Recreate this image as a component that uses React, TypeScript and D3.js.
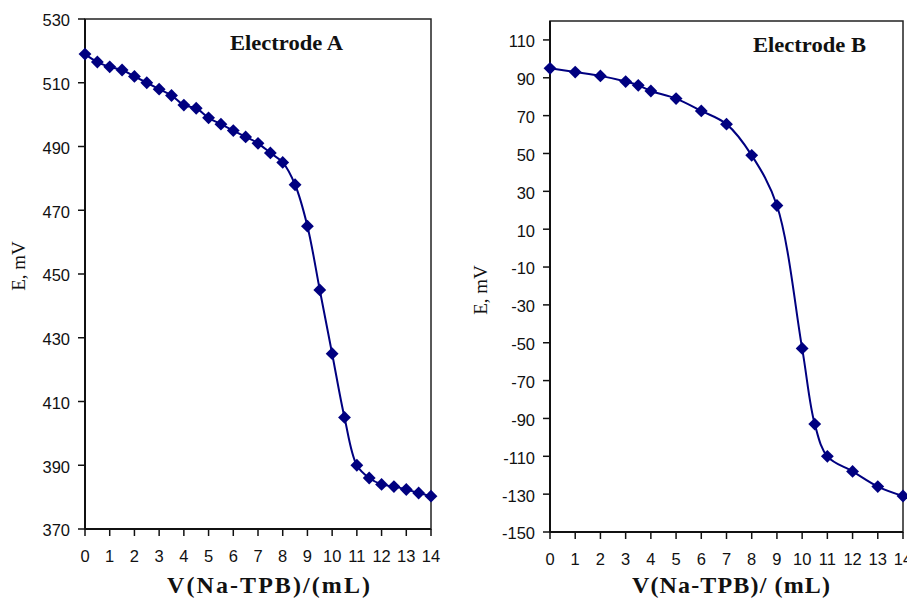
import React from "react";
import * as d3 from "d3";

const volumesA = [0, 0.5, 1, 1.5, 2, 2.5, 3, 3.5, 4, 4.5, 5, 5.5, 6, 6.5, 7, 7.5, 8, 8.5, 9, 9.5, 10, 10.5, 11, 11.5, 12, 12.5, 13, 13.5, 14];
const potentialsA = [519, 516.5, 515, 514, 512, 510, 508, 506, 503, 502, 499, 497, 495, 493, 491, 488, 485, 478, 465, 445, 425, 405, 390, 386, 384, 383.3, 382.4, 381.3, 380.3];

const volumesB = [0, 1, 2, 3, 3.5, 4, 5, 6, 7, 8, 9, 10, 10.5, 11, 12, 13, 14];
const potentialsB = [95, 93, 91, 88, 86, 83, 79, 72.5, 65.5, 49, 22.5, -53, -93, -110, -118, -126, -131];

const xTicks = d3.range(0, 15);
const yTicksA = d3.range(370, 531, 20);
const yTicksB = d3.range(-150, 111, 20);

const NAVY = "#000080";
const sym = d3.symbol().type(d3.symbolDiamond2).size(105);

type PanelProps = {
  xs: number[];
  ys: number[];
  xRange: [number, number];
  yDomain: [number, number];
  yRange: [number, number];
  yTicks: number[];
  title: string;
  titleX: number;
  titleY: number;
  xLabel: string;
  xLabelX: number;
  xLabelLen: number;
  yLabelX: number;
  yLabelY: number;
};

function Panel(p: PanelProps) {
  const x = d3.scaleLinear().domain([0, 14]).range(p.xRange);
  const y = d3.scaleLinear().domain(p.yDomain).range(p.yRange);
  const pts = p.xs.map((v, i) => [v, p.ys[i]] as [number, number]);
  const line = d3
    .line<[number, number]>()
    .x((d) => x(d[0]))
    .y((d) => y(d[1]))
    .curve(d3.curveCatmullRom.alpha(0.5));
  const [x0, x1] = p.xRange;
  const [yb, yt] = p.yRange;
  return (
    <g>
      <rect x={x0} y={yt} width={x1 - x0} height={yb - yt} fill="white" stroke="#222" strokeWidth={1.5} />
      {p.yTicks.map((t) => (
        <g key={"y" + t}>
          <line x1={x0 - 7} x2={x0} y1={y(t)} y2={y(t)} stroke="#111" strokeWidth={1.5} />
          <text x={x0 - 15} y={y(t)} dy="0.45em" textAnchor="end" fontFamily="Liberation Sans, Arial, sans-serif" fontSize={16.5} fill="#111">
            {t}
          </text>
        </g>
      ))}
      {xTicks.map((t) => (
        <g key={"x" + t}>
          <line x1={x(t)} x2={x(t)} y1={yb} y2={yb + 7} stroke="#111" strokeWidth={1.5} />
          <text x={x(t)} y={yb + 33} textAnchor="middle" fontFamily="Liberation Sans, Arial, sans-serif" fontSize={16.5} fill="#111">
            {t}
          </text>
        </g>
      ))}
      <line x1={x0} x2={x0} y1={yt} y2={yb} stroke="#111" strokeWidth={2} />
      <line x1={x0} x2={x1} y1={yb} y2={yb} stroke="#111" strokeWidth={2} />
      <path d={line(pts) || ""} fill="none" stroke={NAVY} strokeWidth={2} />
      {pts.map((d, i) => (
        <path key={i} d={sym() || ""} transform={`translate(${x(d[0])},${y(d[1])})`} fill={NAVY} />
      ))}
      <text x={p.titleX} y={p.titleY} fontFamily="Liberation Serif, Times New Roman, serif" fontWeight="bold" fontSize={21} textLength={113} lengthAdjust="spacingAndGlyphs" fill="#111">
        {p.title}
      </text>
      <text x={p.xLabelX} y={593} fontFamily="Liberation Serif, Times New Roman, serif" fontWeight="bold" fontSize={24} textLength={p.xLabelLen} lengthAdjust="spacing" fill="#111">
        {p.xLabel}
      </text>
      <text transform={`translate(${p.yLabelX},${p.yLabelY}) rotate(-90)`} textAnchor="middle" fontFamily="Liberation Serif, Times New Roman, serif" fontSize={19} fill="#111">
        E, mV
      </text>
    </g>
  );
}

export default function App() {
  return (
    <svg width={907} height={598} style={{ position: "absolute", left: 0, top: 0, background: "white" }}>
      <rect width={907} height={598} fill="white" />
      <Panel
        xs={volumesA}
        ys={potentialsA}
        xRange={[85, 431]}
        yDomain={[370, 530]}
        yRange={[529, 19]}
        yTicks={yTicksA}
        title="Electrode A"
        titleX={230}
        titleY={50}
        xLabel="V(Na-TPB)/(mL)"
        xLabelX={167}
        xLabelLen={203}
        yLabelX={25}
        yLabelY={266}
      />
      <Panel
        xs={volumesB}
        ys={potentialsB}
        xRange={[550, 903]}
        yDomain={[-150, 120]}
        yRange={[532, 21]}
        yTicks={yTicksB}
        title="Electrode B"
        titleX={753}
        titleY={52}
        xLabel="V(Na-TPB)/ (mL)"
        xLabelX={632}
        xLabelLen={198}
        yLabelX={487}
        yLabelY={290}
      />
    </svg>
  );
}
